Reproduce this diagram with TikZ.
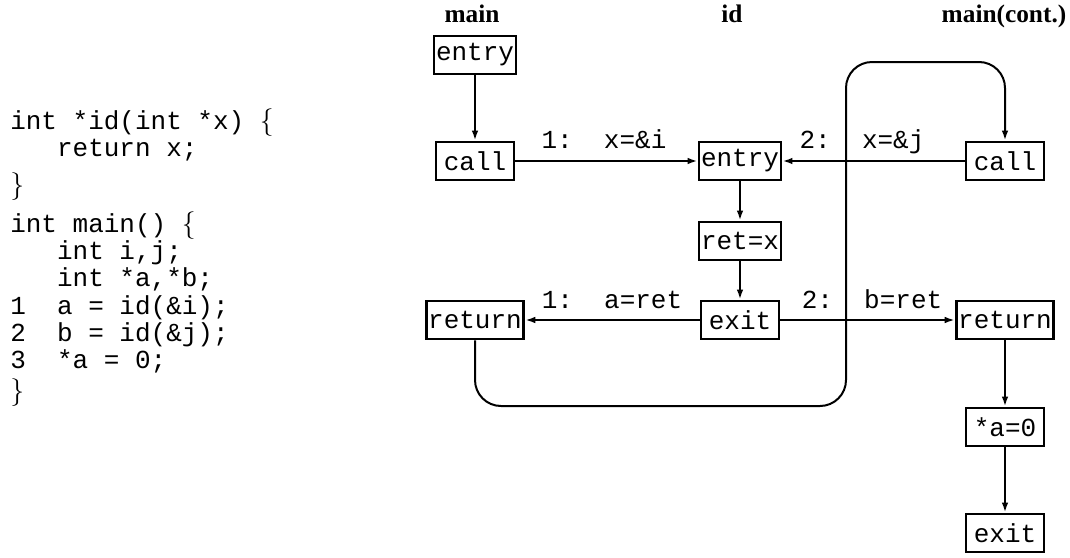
\documentclass[tikz,border=0pt]{standalone}
\usepackage{fontspec}
\setmainfont{Liberation Serif}
\setmonofont{Liberation Mono}
\usetikzlibrary{arrows.meta}

\newcommand{\cf}{\fontsize{19.5}{20.5}\selectfont\ttfamily}
\newcommand{\cind}{\hspace*{1.8em}}
\newcommand{\lbr}{$\{$}
\newcommand{\rbr}{$\}$}

\begin{document}
\begin{tikzpicture}[x=0.75pt,y=0.75pt,yscale=-1,
    blk/.style={draw, line width=2.2pt, minimum width=58.5pt, minimum height=28.5pt, inner xsep=1.5pt, inner ysep=0pt, font=\cf},
    edge/.style={line width=1.5pt, -{Latex[length=7.5pt,width=5pt]}},
    iedge/.style={edge, line width=2.2pt},
    lbl/.style={anchor=base, inner sep=0pt, font=\cf},
    code/.style={anchor=north west, align=left, inner sep=0pt, font=\cf},
    hdr/.style={anchor=base, inner sep=0pt, font=\fontsize{19}{20}\selectfont\bfseries}]
    \useasboundingbox (0,0) rectangle (1070,557);

    % source code
    \node[code] (srcid) at (10,108) {int *id(int *x) \lbr\\ \cind return x;\\[7pt] \rbr};
    \node[code] (srcmain) at (10,211) {int main() \lbr\\ \cind int i,j;\\ \cind int *a,*b;\\ 1\ \ a = id(\&i);\\ 2\ \ b = id(\&j);\\ 3\ \ *a = 0;\\[2.5pt] \rbr};

    % column titles
    \node[hdr] (hmain) at (472,22) {main};
    \node[hdr] (hid) at (732,22) {id};
    \node[hdr] (hcont) at (1004,22) {main(cont.)};

    % main
    \node[blk] (mentry) at (475,55) {entry};
    \node[blk] (mcall) at (475,161) {call};
    \node[blk] (mret) at (475,320) {return};
    % id
    \node[blk] (ientry) at (740,161) {entry};
    \node[blk] (iret) at (740,241) {ret=x};
    \node[blk] (iexit) at (740,320) {exit};
    % main (cont.)
    \node[blk] (ccall) at (1005,161) {call};
    \node[blk] (cret) at (1005,320) {return};
    \node[blk] (cstore) at (1005,427) {*a=0};
    \node[blk] (cexit) at (1005,533) {exit};

    % call and return labels
    \node[lbl] (lcall1) at (604,148) {1:\ \ x=\&i};
    \node[lbl] (lcall2) at (862,148) {2:\ \ x=\&j};
    \node[lbl] (lret1) at (612,308) {1:\ \ a=ret};
    \node[lbl] (lret2) at (872,308) {2:\ \ b=ret};

    % edges
    \draw[edge] (mentry) -- (mcall);
    \draw[edge] (mcall) -- (ientry);
    \draw[edge] (ccall) -- (ientry);
    \draw[iedge] (ientry) -- (iret);
    \draw[iedge] (iret) -- (iexit);
    \draw[edge] (iexit) -- (mret);
    \draw[edge] (iexit) -- (cret);
    \draw[edge] (cret) -- (cstore);
    \draw[edge] (cstore) -- (cexit);

    % return 1 to call 2
    \coordinate (lbot) at (846,406);
    \coordinate (ltop) at (846,62);
    \draw[edge, rounded corners=19.5pt] (mret.south) |- (lbot) -- (ltop) -| (ccall.north);
\end{tikzpicture}
\end{document}
